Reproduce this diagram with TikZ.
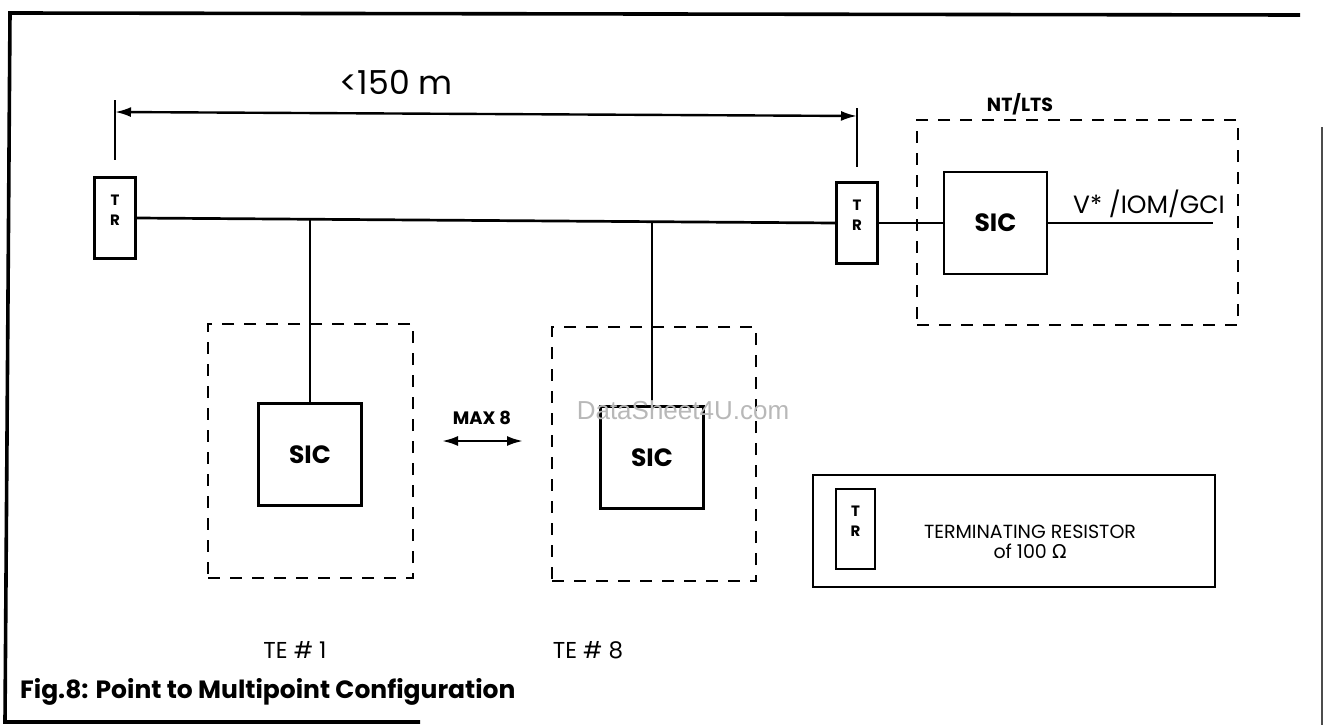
\documentclass[tikz,border=0pt]{standalone}
\usepackage{fontspec}
\setmainfont{Poppins}
\newfontfamily\wmfont{Liberation Sans}
\newfontfamily\omfont{DejaVu Sans}
\usetikzlibrary{arrows.meta}
\begin{document}
\begin{tikzpicture}[x=1pt,y=-1pt,
  wire/.style={line width=2.7pt},
  frameline/.style={line width=3.6pt},
  box/.style={draw, line width=2.7pt, inner sep=0pt},
  dbox/.style={draw, line width=2.6pt, dash pattern=on 12pt off 10pt, inner sep=0pt},
  trbox/.style={box, minimum width=41pt, minimum height=81pt},
  trtext/.style={inner sep=0pt, font=\fontsize{15}{15}\selectfont\bfseries},
  sicbox/.style={box, minimum width=103pt, minimum height=102pt, font=\fontsize{25}{28}\selectfont\bfseries},
  lbl/.style={inner sep=0pt},
  dimarrow/.style={line width=2.4pt, {Latex[length=16pt,width=10pt]}-{Latex[length=16pt,width=10pt]}},
]
\useasboundingbox (0,0) rectangle (1324,725);
% outer frame
\coordinate (fTL) at (10,13);
\coordinate (fTR) at (1300,15);
\coordinate (fBL) at (5,722);
\coordinate (fBR) at (420,722);
\coordinate (fRT) at (1322,127);
\coordinate (fRB) at (1322,725);
\draw[frameline] (fTR) -- (fTL) -- (fBL) -- (fBR);
\draw[line width=1.5pt, black!70] (fRT) -- (fRB);

% dimension
\coordinate (tLt) at (115,100); \coordinate (tLb) at (115,160);
\coordinate (tRt) at (857,108); \coordinate (tRb) at (857,167);
\coordinate (aL) at (115,112); \coordinate (aR) at (857,116);
\draw[wire] (tLt) -- (tLb);
\draw[wire] (tRt) -- (tRb);
\draw[dimarrow] (aL) -- (aR);
\node[lbl, font=\fontsize{33}{36}\selectfont] (dimtxt) at (396,82) {<150 m};

% terminating resistors
\node[trbox] (trL) at (115,218) {};
\node[trtext] (trLT) at (115,200) {T};
\node[trtext] (trLR) at (115,220) {R};
\node[trbox] (trR) at (857,223) {};
\node[trtext] (trRT) at (857,205) {T};
\node[trtext] (trRR) at (857,225) {R};

% NT / LTS
\node[dbox, minimum width=321pt, minimum height=205pt] (nt) at (1077.5,222.5) {};
\node[lbl, font=\fontsize{19}{21}\selectfont\bfseries] (ntlbl) at (1020,104) {NT/LTS};
\node[sicbox] (sicNT) at (995.5,223) {SIC};
\coordinate (outEnd) at (1213,223);
\node[lbl, font=\fontsize{25}{28}\selectfont] (outlbl) at (1149,204) {V* /IOM/GCI};

% TE boxes
\node[dbox, minimum width=205pt, minimum height=254pt] (te1) at (310.5,451) {};
\node[sicbox] (sic1) at (310,454.5) {SIC};
\node[dbox, minimum width=204pt, minimum height=254pt] (te8) at (654,454) {};
\node[sicbox] (sic8) at (652,457.5) {SIC};
\node[lbl, font=\fontsize{23}{26}\selectfont] (te1lbl) at (295,650) {TE \# 1};
\node[lbl, font=\fontsize{23}{26}\selectfont] (te8lbl) at (588,650) {TE \# 8};

% MAX 8
\node[lbl, font=\fontsize{18}{20}\selectfont\bfseries] (maxlbl) at (482,418) {MAX 8};
\coordinate (mL) at (442,441); \coordinate (mR) at (523,441);
\draw[dimarrow] (mL) -- (mR);

% bus and connectors
\draw[wire] (trL.east) -- (trR.west);
\draw[wire] (sic1.north) -- (sic1.north |- trL.east);
\draw[wire] (sic8.north) -- (sic8.north |- trR.west);
\draw[wire] (trR.east) -- (sicNT.west);
\draw[wire] (sicNT.east) -- (outEnd);

% legend
\node[box, minimum width=402pt, minimum height=112pt] (legend) at (1014,531) {};
\node[trbox, minimum width=39pt, minimum height=80pt] (trLeg) at (855.5,529) {};
\node[trtext] (trLegT) at (855.5,511) {T};
\node[trtext] (trLegR) at (855.5,531) {R};
\node[lbl, align=center, font=\fontsize{19}{20}\selectfont] (legtxt) at (1030,542) {TERMINATING RESISTOR\\of 100 {\omfont Ω}};

% watermark
\node[lbl, text=black!28, font=\wmfont\fontsize{26}{28}\selectfont] (wm) at (683,410) {DataSheet4U.com};

% caption
\node[lbl, anchor=west, font=\fontsize{25}{28}\selectfont\bfseries] (cap) at (20,692) {Fig.8: Point to Multipoint Configuration};
\end{tikzpicture}
\end{document}
